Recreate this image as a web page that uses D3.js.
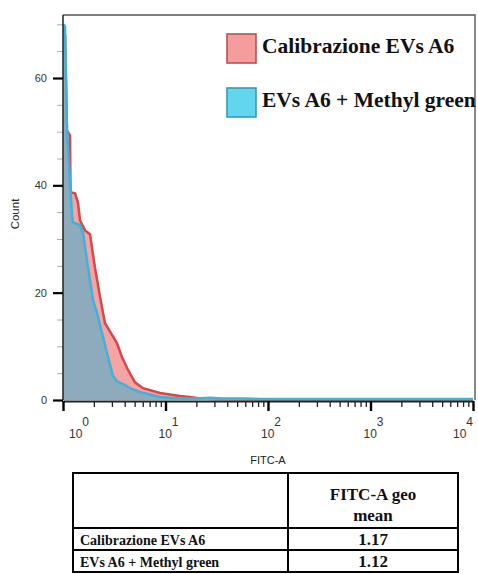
<!DOCTYPE html>
<html><head><meta charset="utf-8">
<script src="https://cdn.jsdelivr.net/npm/d3@7"></script>
<style>body{margin:0;background:#fff}</style></head>
<body><svg id="c" width="478" height="574"></svg>
<script>
// ---- data ----
const seriesNames = ["Calibrazione EVs A6", "EVs A6 + Methyl green"];
const redFitc  = [1.00, 1.046, 1.094, 1.17, 1.184, 1.31, 1.40, 1.465, 1.64, 1.834, 2.05, 2.30, 2.57, 2.87, 3.36, 3.76, 4.31, 5.04, 6.03, 8.84, 13.8, 17.3, 21.7, 30, 60, 10000];
const redCount = [68, 68, 50.2, 49.3, 38.7, 38.5, 36.8, 33.5, 31.6, 30.9, 24.7, 19.2, 14.3, 12.8, 10.6, 8.0, 5.6, 3.3, 2.2, 1.3, 0.74, 0.56, 0.28, 0.2, 0.15, 0.15];
const blueFitc  = [1.00, 1.03, 1.046, 1.094, 1.224, 1.252, 1.465, 1.567, 1.754, 1.963, 2.147, 2.40, 2.75, 3.07, 3.36, 4.03, 4.51, 5.64, 8.84, 13.8, 20, 27.2, 35, 53.3, 83.6, 205, 1950, 10000];
const blueCount = [70, 69.8, 69.6, 50.2, 34.4, 33.1, 32.6, 31.1, 24.7, 18.6, 16.2, 12.5, 8.0, 4.5, 3.5, 2.8, 2.2, 1.5, 0.56, 0.28, 0.3, 0.4, 0.3, 0.3, 0.2, 0.2, 0.2, 0.2];
const yMajor = [0, 20, 40, 60];
const yMinor = [5, 10, 15, 25, 30, 35, 45, 50, 55, 65, 70];
const xMajor = [1, 10, 100, 1000, 10000];
const xExp = ["0", "1", "2", "3", "4"];
const tableHeader = ["FITC-A geo", "mean"];
const tableRows = ["Calibrazione EVs A6", "EVs A6 + Methyl green"];
const tableVals = ["1.17", "1.12"];

const svg = d3.select("#c");
const x = d3.scaleLog().domain([1, 10000]).range([63, 473]);
const y = d3.scaleLinear().domain([0, 60]).range([400, 78]);

// areas
const redPts = redFitc.map((f, i) => [f, redCount[i]]);
const bluePts = blueFitc.map((f, i) => [f, blueCount[i]]);
const area = d3.area().x(d => x(d[0])).y0(y(0)).y1(d => y(d[1]));
const line = d3.line().x(d => x(d[0])).y(d => y(d[1]));

svg.append("path").attr("d", area(redPts)).attr("fill", "#f5a3a3");
svg.append("path").attr("d", line(redPts)).attr("fill", "none").attr("stroke", "#d8474a").attr("stroke-width", 2.5);
svg.append("path").attr("d", area(bluePts)).attr("fill", "#8eaabd");
svg.append("path").attr("d", line(bluePts)).attr("fill", "none").attr("stroke", "#3bb3de").attr("stroke-width", 2.5);

// frame
svg.append("path").attr("d", "M63,15H475V400").attr("fill", "none").attr("stroke", "#555").attr("stroke-width", 1.4);

// y axis
const yAxMinor = svg.append("g").attr("transform", "translate(63,0)")
  .call(d3.axisLeft(y).tickValues(yMinor).tickSize(6).tickFormat(""));
yAxMinor.select(".domain").remove();
yAxMinor.selectAll("line").attr("stroke", "#aaa").attr("stroke-width", 1);
const yAx = svg.append("g").attr("transform", "translate(63,0)")
  .call(d3.axisLeft(y).tickValues(yMajor).tickSize(10).tickPadding(6).tickSizeOuter(0));
yAx.select(".domain").attr("d", "M0,15V400").attr("stroke", "#222").attr("stroke-width", 1.5);
yAx.selectAll("line").attr("stroke", "#000").attr("stroke-width", 2.2);
yAx.selectAll("text").attr("font-family", "Liberation Sans, Arial, sans-serif").attr("font-size", 11).attr("fill", "#333").attr("x", -16);

// x axis
const xMinorVals = [];
for (let d = 1; d < 10000; d *= 10) for (let k = 2; k <= 9; k++) xMinorVals.push(d * k);
const xAxMinor = svg.append("g").attr("transform", "translate(0,401)")
  .call(d3.axisBottom(x).tickValues(xMinorVals).tickSize(6).tickFormat(""));
xAxMinor.select(".domain").remove();
xAxMinor.selectAll("line").attr("stroke", "#222").attr("stroke-width", 1.3);
const xAx = svg.append("g").attr("transform", "translate(0,401)")
  .call(d3.axisBottom(x).tickValues(xMajor).tickSize(10).tickFormat("").tickSizeOuter(0));
xAx.select(".domain").attr("stroke", "#222").attr("stroke-width", 2);
xAx.selectAll("line").attr("stroke", "#000").attr("stroke-width", 2.4);

const xl = svg.append("g").attr("font-family", "Liberation Sans, Arial, sans-serif").attr("fill", "#333");
xMajor.forEach((v, i) => {
  let anchor = "middle", dx = 3;
  if (i === 0) { anchor = "start"; dx = 6; }
  if (i === xMajor.length - 1) { anchor = "end"; dx = 0; }
  const t = xl.append("text").attr("x", x(v) + dx).attr("y", 438).attr("text-anchor", anchor).attr("font-size", 12);
  t.append("tspan").text("10");
  t.append("tspan").attr("dy", -12).attr("font-size", 12).text(xExp[i]);
});
svg.append("text").attr("x", 268).attr("y", 464).attr("text-anchor", "middle")
  .attr("font-family", "Liberation Sans, Arial, sans-serif").attr("font-size", 11).attr("fill", "#222").text("FITC-A");
svg.append("text").attr("transform", "translate(19,214) rotate(-90)").attr("text-anchor", "middle")
  .attr("font-family", "Liberation Sans, Arial, sans-serif").attr("font-size", 11.5).attr("fill", "#222").text("Count");

// legend
const legFill = ["#f59c9c", "#62d6ef"];
const legStroke = ["#b85050", "#3a9ab5"];
seriesNames.forEach((n, i) => {
  const yy = 34 + i * 54;
  svg.append("rect").attr("x", 227).attr("y", yy).attr("width", 29).attr("height", 29)
    .attr("fill", legFill[i]).attr("stroke", legStroke[i]).attr("stroke-width", 1.6);
  svg.append("text").attr("x", 262).attr("y", yy + 19).attr("font-family", "Liberation Serif, Times New Roman, serif")
    .attr("font-weight", "bold").attr("font-size", 21.5).attr("fill", "#111").text(n);
});

// table
const T = {l: 73, r: 458, m: 288, t: 473, h: 528, r1: 550, b: 572};
const tg = svg.append("g").attr("stroke", "#000").attr("stroke-width", 2);
tg.append("rect").attr("x", T.l).attr("y", T.t).attr("width", T.r - T.l).attr("height", T.b - T.t).attr("fill", "none");
tg.append("line").attr("x1", T.m).attr("x2", T.m).attr("y1", T.t).attr("y2", T.b);
tg.append("line").attr("x1", T.l).attr("x2", T.r).attr("y1", T.h).attr("y2", T.h);
tg.append("line").attr("x1", T.l).attr("x2", T.r).attr("y1", T.r1).attr("y2", T.r1);
const serif = "Liberation Serif, Times New Roman, serif";
const cx = (T.m + T.r) / 2;
tableHeader.forEach((h, i) => {
  svg.append("text").attr("x", cx).attr("y", 500 + i * 21).attr("text-anchor", "middle")
    .attr("font-family", serif).attr("font-weight", "bold").attr("font-size", 17).attr("fill", "#111").text(h);
});
const rowY = [545, 567];
tableRows.forEach((r, i) => {
  svg.append("text").attr("x", 80).attr("y", rowY[i]).attr("font-family", serif).attr("font-weight", "bold")
    .attr("font-size", 14).attr("fill", "#111").text(r);
  svg.append("text").attr("x", cx).attr("y", rowY[i]).attr("text-anchor", "middle").attr("font-family", serif)
    .attr("font-weight", "bold").attr("font-size", 17).attr("fill", "#111").text(tableVals[i]);
});
</script></body></html>
